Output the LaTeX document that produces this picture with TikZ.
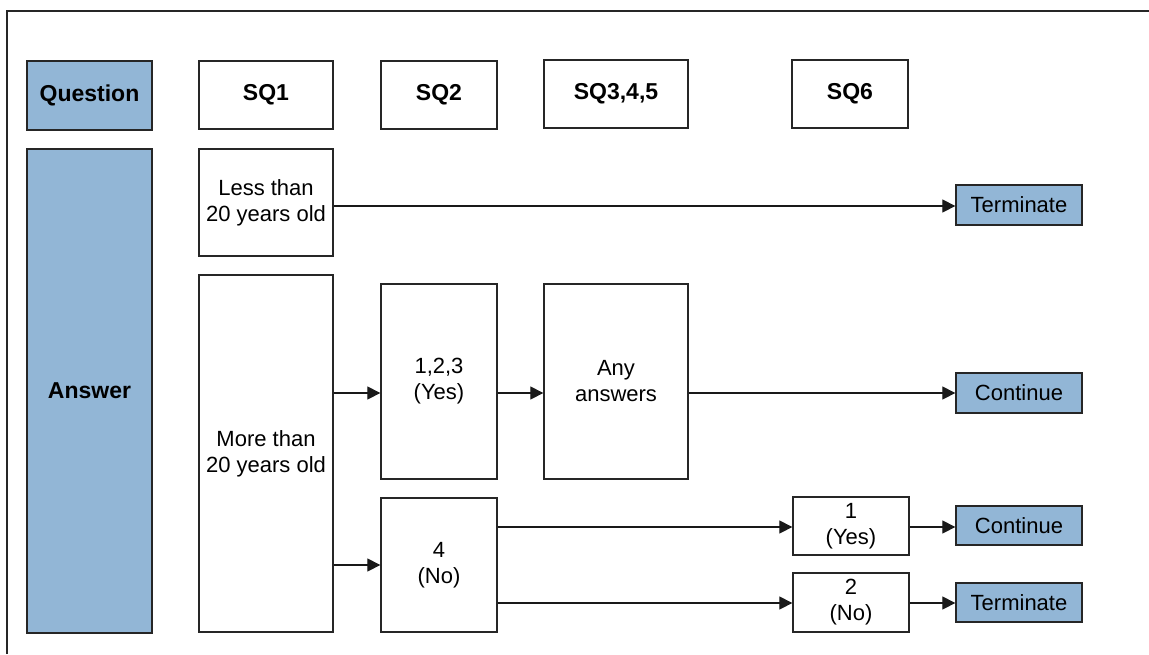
\documentclass[tikz,border=0pt]{standalone}
\usepackage{fontspec}
\setmainfont{Liberation Sans}
\usetikzlibrary{arrows.meta}
\definecolor{headblue}{RGB}{146,182,214}

\begin{document}
\begin{tikzpicture}[
    x=1pt, y=-1pt,
    >={Triangle[length=13pt,width=13pt]},
    cell/.style={draw=black!85, line width=1.3pt, fill=white, inner sep=0pt, align=center, font=\fontsize{22}{26}\selectfont},
    head/.style={cell, font=\fontsize{23}{27}\selectfont\bfseries},
    rowhead/.style={head, fill=headblue},
    outcome/.style={cell, fill=headblue},
    flow/.style={->, line width=1.2pt, draw=black!90}
]
\useasboundingbox (0,0) rectangle (1149,654);
\draw[line width=1.2pt, draw=black!85] (7,654) -- (7,11) -- (1149,11);

% row heads
\node[rowhead, minimum width=125pt, minimum height=69pt] (quest) at (89.5,95.5) {Question};
\node[rowhead, minimum width=125pt, minimum height=484pt] (answ) at (89.5,391) {Answer};

% questions
\node[head, minimum width=134pt, minimum height=68pt] (sq1) at (266,95) {SQ1};
\node[head, minimum width=116pt, minimum height=68pt] (sq2) at (439,95) {SQ2};
\node[head, minimum width=144pt, minimum height=68pt] (sq345) at (616,94) {SQ3,4,5};
\node[head, minimum width=116pt, minimum height=68pt] (sq6) at (850,94) {SQ6};

% answers
\node[cell, minimum width=134pt, minimum height=107pt] (less) at (266,202.5) {Less than\\20 years old};
\node[cell, minimum width=134pt, minimum height=357pt] (more) at (266,453.5) {More than\\20 years old};
\node[cell, minimum width=116pt, minimum height=195pt] (yes123) at (439,381.5) {1,2,3\\(Yes)};
\node[cell, minimum width=144pt, minimum height=195pt] (anyans) at (616,381.5) {Any\\answers};
\node[cell, minimum width=116pt, minimum height=134pt] (no4) at (439,565) {4\\(No)};
\node[cell, minimum width=116pt, minimum height=58pt] (yes1) at (851,526) {1\\(Yes)};
\node[cell, minimum width=116pt, minimum height=59pt] (no2) at (851,602.5) {2\\(No)};

% outcomes
\node[outcome, minimum width=126pt, minimum height=40pt] (term1) at (1019,205) {Terminate};
\node[outcome, minimum width=126pt, minimum height=40pt] (cont1) at (1019,393) {Continue};
\node[outcome, minimum width=126pt, minimum height=39pt] (cont2) at (1019,525.5) {Continue};
\node[outcome, minimum width=126pt, minimum height=39pt] (term2) at (1019,602.5) {Terminate};

% levels of the connectors
\coordinate (lvlA) at (0,206);
\coordinate (lvlB) at (0,393);
\coordinate (lvlC) at (0,565);
\coordinate (lvlD) at (0,527);
\coordinate (lvlE) at (0,603);

\draw[flow] (less.east |- lvlA) -- (term1.west |- lvlA);
\draw[flow] (more.east |- lvlB) -- (yes123.west |- lvlB);
\draw[flow] (yes123.east |- lvlB) -- (anyans.west |- lvlB);
\draw[flow] (anyans.east |- lvlB) -- (cont1.west |- lvlB);
\draw[flow] (more.east |- lvlC) -- (no4.west |- lvlC);
\draw[flow] (no4.east |- lvlD) -- (yes1.west |- lvlD);
\draw[flow] (no4.east |- lvlE) -- (no2.west |- lvlE);
\draw[flow] (yes1.east |- lvlD) -- (cont2.west |- lvlD);
\draw[flow] (no2.east |- lvlE) -- (term2.west |- lvlE);
\end{tikzpicture}
\end{document}
